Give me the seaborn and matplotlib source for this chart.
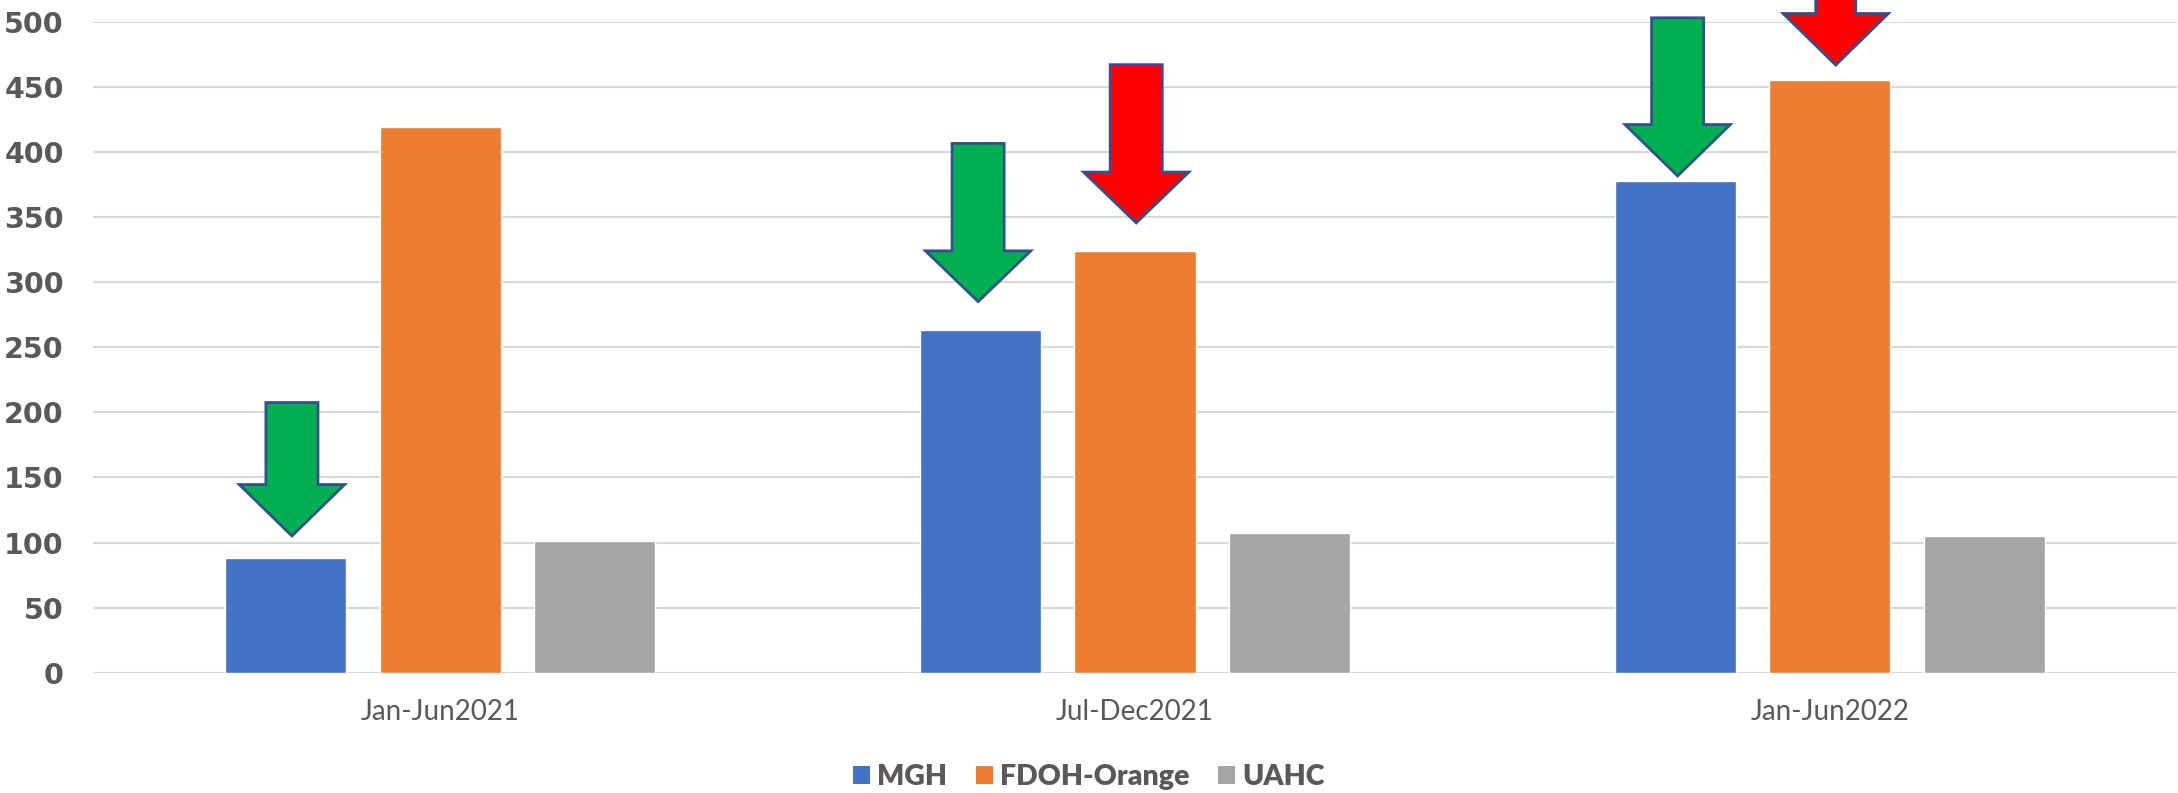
import matplotlib
matplotlib.use("Agg")
import matplotlib.pyplot as plt
from matplotlib.patches import Polygon, Patch
import seaborn as sns
import pandas as pd

# ---- data ----
periods = ["Jan-Jun2021", "Jul-Dec2021", "Jan-Jun2022"]
series = ["MGH", "FDOH-Orange", "UAHC"]
mgh = [88, 263, 378]
fdoh = [419, 324, 455]
uahc = [101, 107, 105]
colors = ["#4472C4", "#ED7D31", "#A5A5A5"]
y_ticks = [0, 50, 100, 150, 200, 250, 300, 350, 400, 450, 500]

# callout arrows: (series, period, tip value, head-base value, shaft-top value, fill)
arrow_series = ["MGH", "MGH", "FDOH-Orange", "MGH", "FDOH-Orange"]
arrow_period = ["Jan-Jun2021", "Jul-Dec2021", "Jul-Dec2021", "Jan-Jun2022", "Jan-Jun2022"]
arrow_tip = [105, 285, 345.5, 381.5, 466.7]
arrow_head = [144.5, 324, 384.5, 421, 506.3]
arrow_top = [207.5, 406.5, 467, 503, 590]
arrow_fill = ["#00B050", "#00B050", "#FF0000", "#00B050", "#FF0000"]
arrow_shift = [0.05, -0.02, 0.01, 0.02, 0.05]      # fraction of bar width
arrow_shaft = [0.43, 0.43, 0.43, 0.43, 0.33]       # fraction of bar width
arrow_headw = [0.87, 0.87, 0.87, 0.87, 0.87]

df = pd.DataFrame({
    "period": periods * 3,
    "series": [s for s in series for _ in periods],
    "value": mgh + fdoh + uahc,
})

sns.set_theme(style="white")
plt.rcParams["font.family"] = ["Lato", "DejaVu Sans"]

fig = plt.figure(figsize=(21.78, 7.93), dpi=100)
ax = fig.add_axes([93 / 2178, 1 - 672.7 / 793, (2177 - 93) / 2178, (672.7 - 21.7) / 793])

sns.barplot(data=df, x="period", y="value", hue="series", order=periods,
            hue_order=series, palette=colors, width=0.667, gap=0.216,
            saturation=1, ax=ax, legend=False, zorder=2)

ax.set_xlim(-0.5, 2.5)
ax.set_ylim(0, 500)
ax.set_yticks(y_ticks)
ax.set_xlabel("")
ax.set_ylabel("")
for s in ax.spines.values():
    s.set_visible(False)
ax.yaxis.grid(True, color="#D9D9D9", linewidth=1.5, zorder=0)
ax.set_axisbelow(True)
ax.tick_params(axis="y", length=0, pad=21, labelsize=20.5, labelcolor="#595959")
ax.tick_params(axis="x", length=0, pad=19, labelsize=20, labelcolor="#595959")
for lab in ax.get_yticklabels():
    lab.set_fontfamily("DejaVu Sans")
    lab.set_fontweight("bold")

# bar geometry from the drawn patches
bars = {}
k = 0
for s in series:
    for p in periods:
        patch = ax.patches[k]
        bars[(s, p)] = (patch.get_x() + patch.get_width() / 2, patch.get_width())
        k += 1

for s, p, tip, hb, top, fc, sh, sw, hw in zip(arrow_series, arrow_period, arrow_tip,
                                              arrow_head, arrow_top, arrow_fill,
                                              arrow_shift, arrow_shaft, arrow_headw):
    cx, w = bars[(s, p)]
    cx = cx + sh * w
    half_s = sw * w / 2
    half_h = hw * w / 2
    pts = [(cx - half_s, top), (cx + half_s, top), (cx + half_s, hb), (cx + half_h, hb),
           (cx, tip), (cx - half_h, hb), (cx - half_s, hb)]
    ax.add_patch(Polygon(pts, closed=True, facecolor=fc, edgecolor="#2F528F",
                         linewidth=2, clip_on=False, zorder=5, joinstyle="miter"))

handles = [Patch(facecolor=c, edgecolor="none", label=s) for c, s in zip(colors, series)]
leg = fig.legend(handles=handles, loc="center", bbox_to_anchor=(0.5, 1 - 776.7 / 793),
                 ncol=3, frameon=False, handlelength=0.6, handleheight=0.6,
                 handletextpad=0.25, columnspacing=1.0,
                 prop={"family": "Lato", "weight": "heavy", "size": 20.5})
for t in leg.get_texts():
    t.set_color("#595959")

fig.savefig("out.png", dpi=100)
